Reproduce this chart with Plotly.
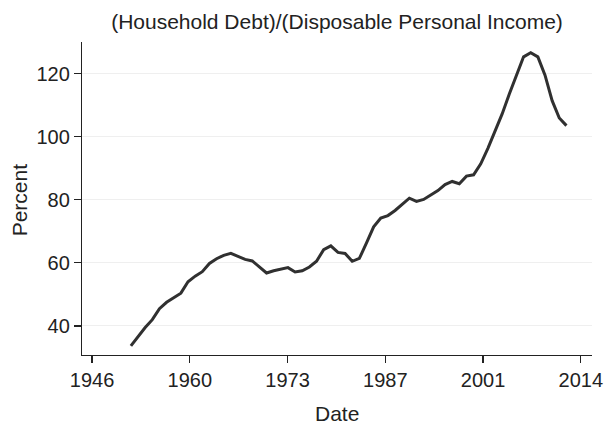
import plotly.graph_objects as go

# ---- data (annual, plotted at Q4 dates) ----
years = list(range(1951, 2013))
debt_to_income = [
    33.7, 36.8, 39.5, 42.0, 45.5, 47.5, 49.0, 50.4, 54.0, 55.8,
    57.2, 59.8, 61.3, 62.4, 63.0, 62.1, 61.1, 60.6, 58.7, 56.8,
    57.5, 57.9, 58.5, 57.1, 57.5, 58.7, 60.5, 64.2, 65.4, 63.3,
    63.0, 60.5, 61.4, 66.3, 71.4, 74.2, 75.0, 76.6, 78.5, 80.5,
    79.5, 80.1, 81.5, 82.9, 84.8, 85.8, 85.1, 87.5, 87.9, 91.4,
    96.3, 101.5, 107.2, 113.5, 119.6, 125.3, 126.6, 125.3, 119.5, 111.4,
    105.9, 103.5,
]
x_tick_dates = ["1946-04-24", "1960-01-01", "1973-09-09",
                "1987-05-19", "2001-01-25", "2014-10-04"]
x_tick_labels = ["1946", "1960", "1973", "1987", "2001", "2014"]
y_tick_values = [40, 60, 80, 100, 120]

dates = [f"{y}-10-01" for y in years]

FONT = "Liberation Sans, Arial, Helvetica, sans-serif"
TXT = "#222222"

W, H = 615, 424
fig = go.Figure()
fig.add_trace(go.Scatter(
    x=dates, y=debt_to_income, mode="lines",
    line=dict(color="#303030", width=3),
    showlegend=False, hoverinfo="skip",
))

fig.update_layout(
    width=W, height=H, autosize=False,
    margin=dict(l=82, r=12, t=42, b=69, pad=0),
    paper_bgcolor="white", plot_bgcolor="white",
    font=dict(family=FONT, size=20, color=TXT),
    title=dict(text="(Household Debt)/(Disposable Personal Income)",
               x=0.5, xref="paper", xanchor="center",
               y=1 - 22 / H, yref="container", yanchor="middle",
               font=dict(family=FONT, size=21, color=TXT)),
    xaxis=dict(
        type="date",
        range=["1944-11-25", "2016-05-01"],
        tickmode="array", tickvals=x_tick_dates, ticktext=x_tick_labels,
        ticks="outside", ticklen=7, tickwidth=1.2, tickcolor="#222",
        showline=True, linecolor="#222", linewidth=1.2,
        showgrid=False, zeroline=False,
        tickfont=dict(family=FONT, size=20, color=TXT),
    ),
    yaxis=dict(
        range=[30.8, 130.0],
        tickmode="array", tickvals=y_tick_values,
        ticks="outside", ticklen=7, tickwidth=1.2, tickcolor="#222",
        showline=True, linecolor="#222", linewidth=1.2,
        showgrid=True, gridcolor="#efefef", gridwidth=1,
        zeroline=False,
        tickfont=dict(family=FONT, size=20, color=TXT),
    ),
    annotations=[
        dict(text="Percent", xref="paper", yref="paper",
             x=(18 - 82) / 521, y=(355 - 200) / 313,
             xanchor="center", yanchor="middle", textangle=-90,
             showarrow=False, font=dict(family=FONT, size=21, color=TXT)),
        dict(text="Date", xref="paper", yref="paper",
             x=0.5, y=(355 - 414) / 313,
             xanchor="center", yanchor="middle",
             showarrow=False, font=dict(family=FONT, size=21, color=TXT)),
    ],
)

# remove the default page margin so the figure fills the window exactly
fig.write_html(
    "out.html",
    config={"displayModeBar": False, "staticPlot": True},
    post_script="document.body.style.margin='0';"
                "document.body.style.padding='0';"
                "document.body.style.overflow='hidden';",
)
